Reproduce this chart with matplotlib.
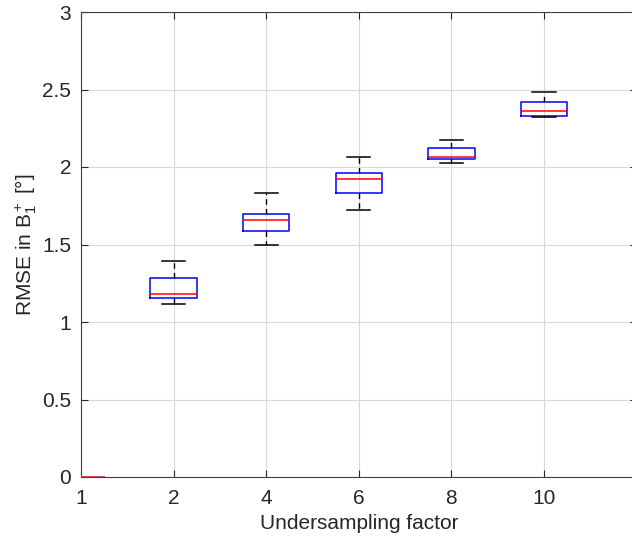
import matplotlib
matplotlib.use('Agg')
import matplotlib.pyplot as plt

plt.rcParams['font.family'] = ['Liberation Sans', 'DejaVu Sans']
plt.rcParams['mathtext.fontset'] = 'custom'
plt.rcParams['mathtext.rm'] = 'Liberation Sans'
plt.rcParams['mathtext.it'] = 'Liberation Sans'

# Boxplot data
fatores = ['1', '2', '4', '6', '8', '10']
w_baixo = [0.0, 1.116, 1.497, 1.723, 2.026, 2.325]
q1 = [0.0, 1.155, 1.587, 1.832, 2.052, 2.329]
mediana = [0.0, 1.181, 1.658, 1.923, 2.065, 2.361]
q3 = [0.0, 1.284, 1.697, 1.961, 2.123, 2.419]
w_alto = [0.0, 1.394, 1.832, 2.065, 2.174, 2.484]

stats = []
for i in range(len(fatores)):
    stats.append({'whislo': w_baixo[i], 'q1': q1[i], 'med': mediana[i],
                  'q3': q3[i], 'whishi': w_alto[i], 'fliers': [], 'label': fatores[i]})

fig = plt.figure(figsize=(6.32, 5.39), dpi=100)
ax = fig.add_axes([81 / 632, 62 / 539, 555.6 / 632, 465 / 539])

pos = list(range(1, len(fatores) + 1))
bp = ax.bxp(stats, positions=pos, widths=0.5, capwidths=0.25, showfliers=False,
            boxprops=dict(color='blue', linewidth=1.1),
            medianprops=dict(color='red', linewidth=1.1),
            whiskerprops=dict(color='black', linestyle=(0, (4, 3)), linewidth=1.0),
            capprops=dict(color='black', linewidth=1.1))
for m in bp['medians']:
    m.set_zorder(4)
bp['medians'][0].set_linewidth(2.0)
bp['medians'][0].set_color('#ff5050')

ax.set_xlim(1, 7)
ax.set_ylim(0, 3)
ax.set_xticks(pos)
ax.set_xticklabels(fatores)
ax.set_yticks([0, 0.5, 1, 1.5, 2, 2.5, 3])
ax.set_yticklabels(['0', '0.5', '1', '1.5', '2', '2.5', '3'])
ax.grid(True, color='#d9d9d9', linewidth=0.8)
ax.set_axisbelow(True)
ax.tick_params(direction='in', length=5, labelsize=15, colors='#262626',
               top=True, right=True, labelcolor='#262626')
ax.tick_params(axis='x', pad=9)
ax.tick_params(axis='y', pad=7)
for s in ax.spines.values():
    s.set_color('#404040')
    s.set_linewidth(0.8)

ax.set_xlabel('Undersampling factor', fontsize=15, color='#262626', labelpad=4)
ax.set_ylabel(r'RMSE in B$_1^+$ [°]', fontsize=15, color='#262626', labelpad=2)

fig.savefig('out.png', dpi=100)
